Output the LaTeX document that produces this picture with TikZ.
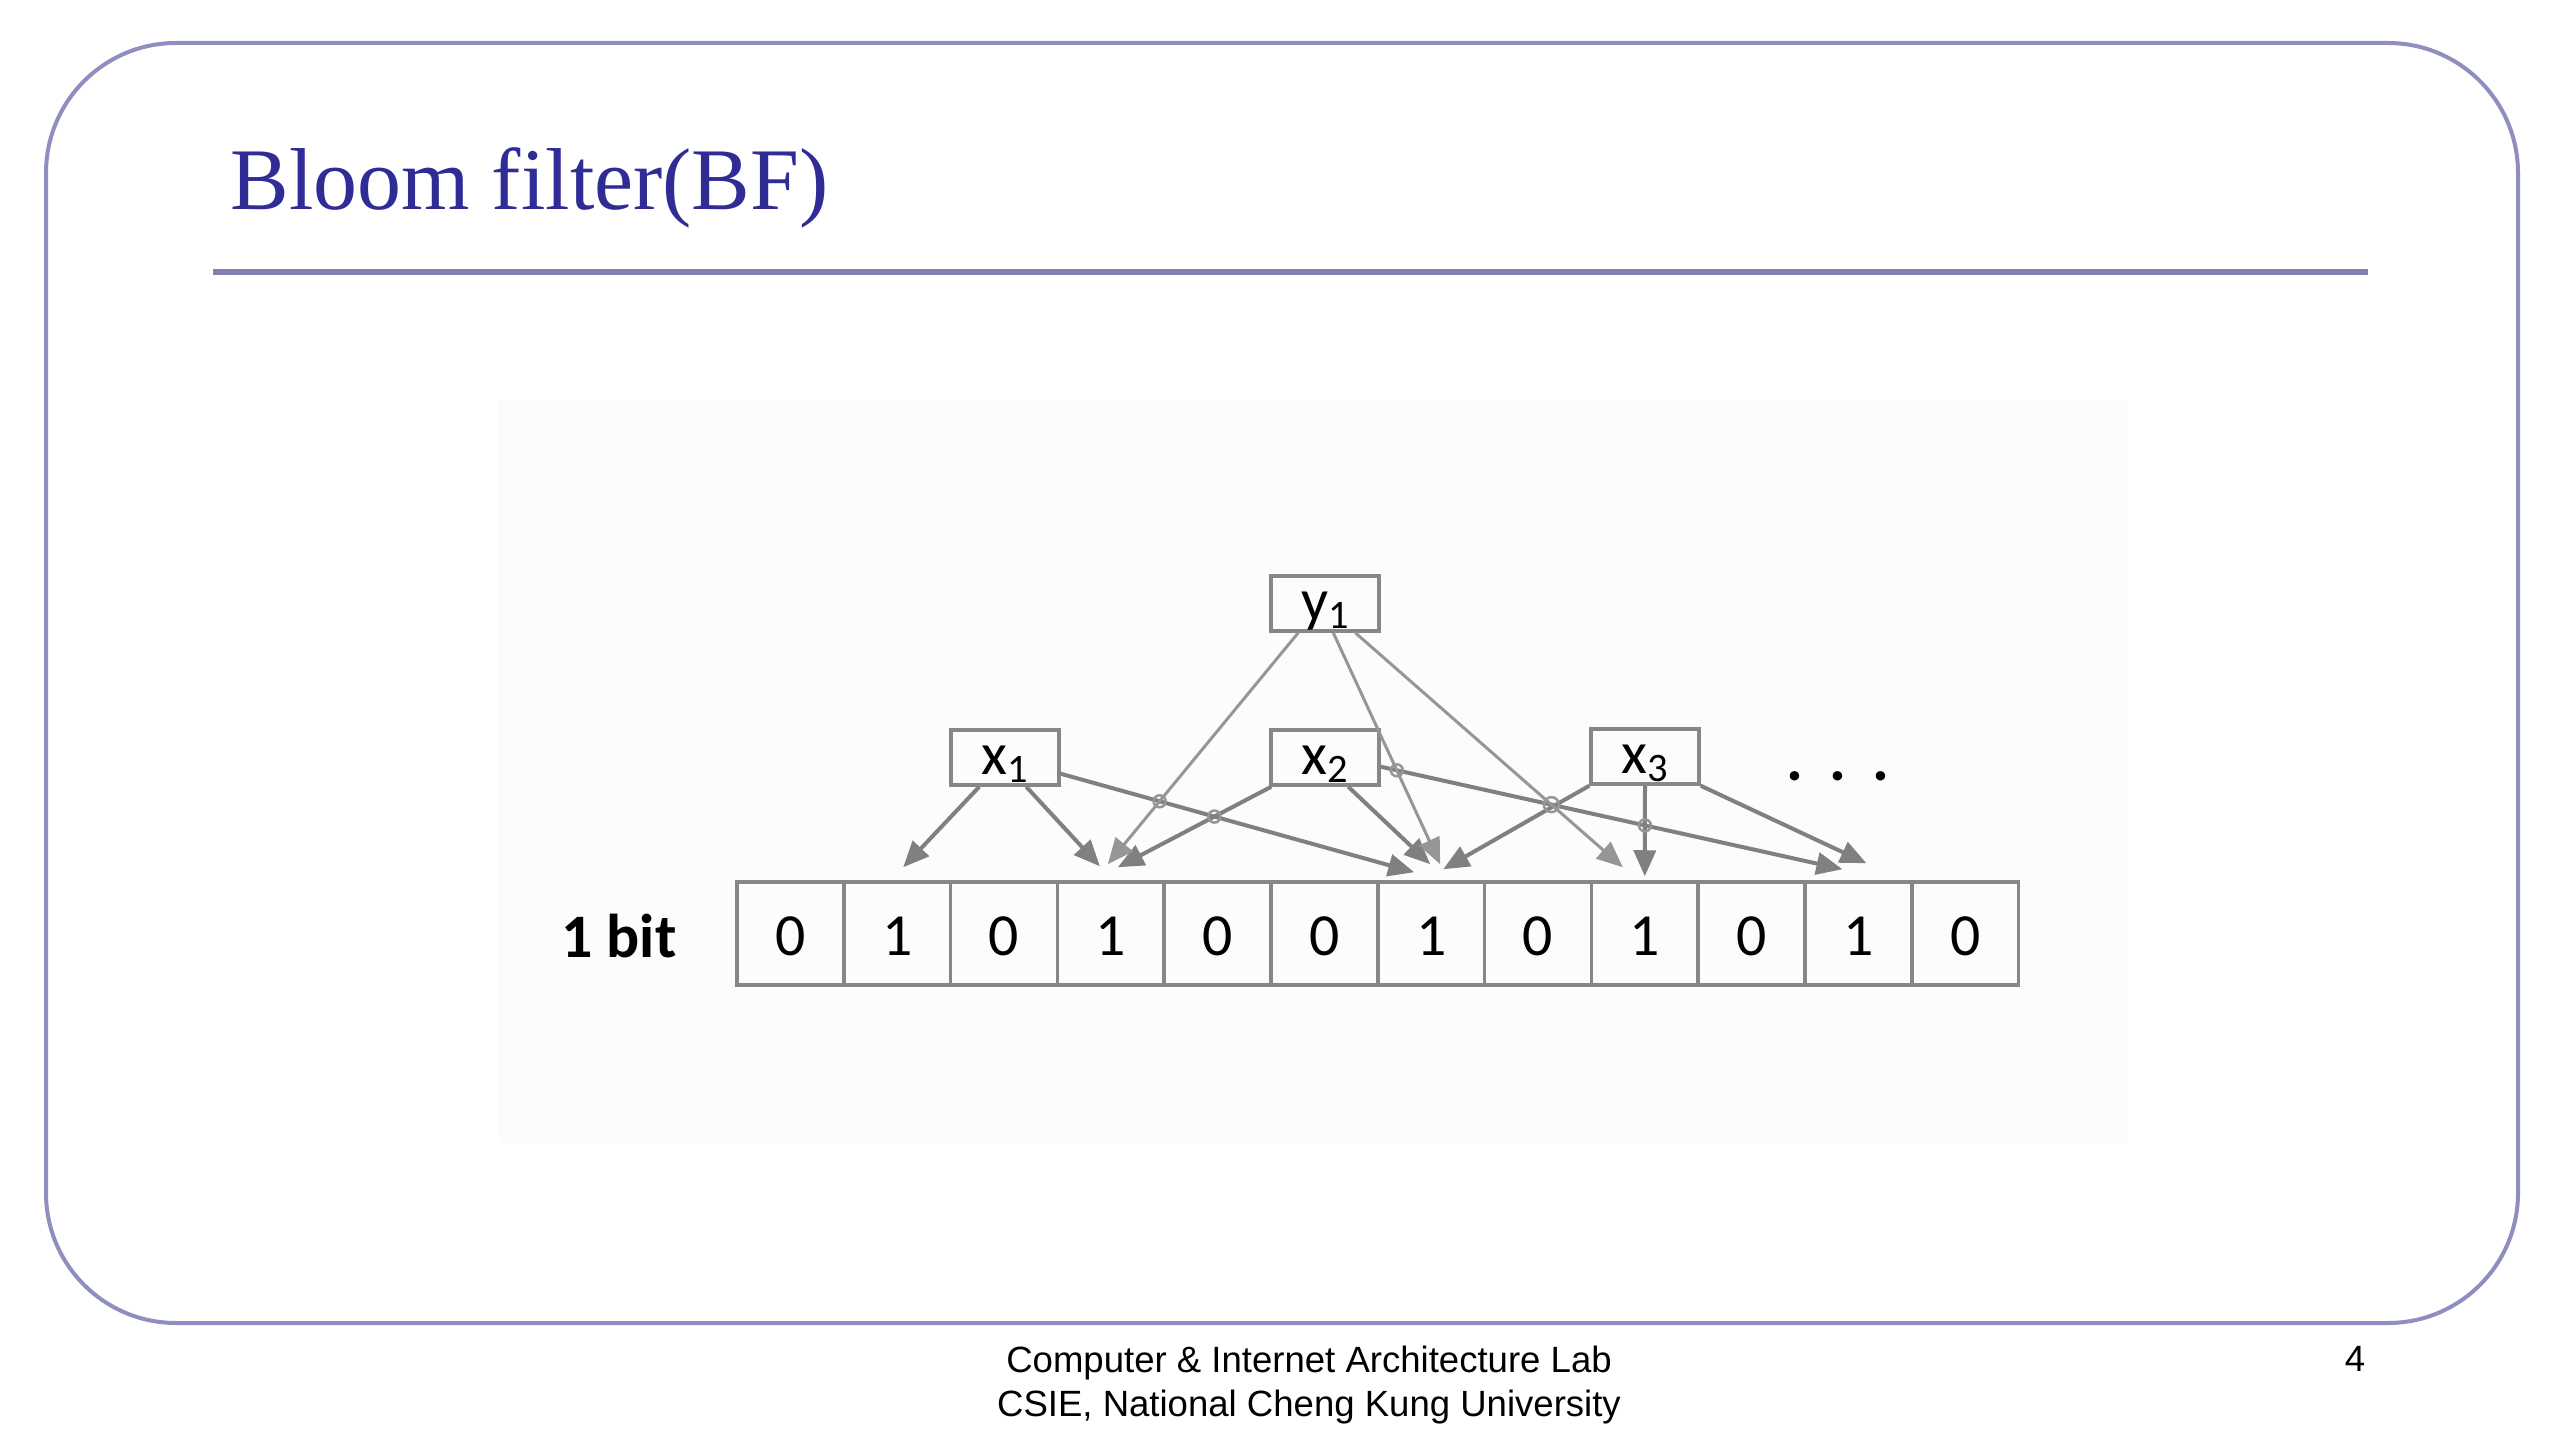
\documentclass[tikz,border=0pt]{standalone}
\usepackage{fontspec}
\setmainfont{Liberation Serif}
\newfontfamily\calibri{Carlito}
\newfontfamily\arialfont{Liberation Sans}
\usetikzlibrary{arrows.meta,calc,intersections}
\definecolor{framecol}{RGB}{142,142,192}
\definecolor{rulecol}{RGB}{128,128,178}
\definecolor{titlecol}{RGB}{48,44,150}
\definecolor{boxgray}{RGB}{135,135,135}
\definecolor{arrgray}{RGB}{128,128,128}
\definecolor{ygray}{RGB}{150,150,150}
\definecolor{imgbg}{RGB}{252,252,252}
\begin{document}
\begin{tikzpicture}[x=0.1mm,y=-0.1mm,
  bfbox/.style={draw=boxgray, line width=0.35mm, minimum width=10.8mm, minimum height=5.5mm,
    inner sep=0pt, text height=3.5mm, text depth=0pt, font=\calibri\fontsize{17}{18}\selectfont},
  bitcell/.style={draw=boxgray, line width=0.35mm, minimum width=10.68mm, minimum height=10.3mm,
    inner sep=0pt, text height=4.4mm, text depth=0pt, font=\calibri\fontsize{17}{18}\selectfont},
  xarrow/.style={draw=arrgray, line width=0.4mm, -{Triangle[length=2.6mm,width=2.2mm]}},
  yarrow/.style={draw=ygray, line width=0.3mm, -{Triangle[length=2.6mm,width=2.2mm]}},
  jumpmark/.style={draw=ygray, line width=0.25mm},
  footfont/.style={font=\arialfont\fontsize{10.4}{12.5}\selectfont, inner sep=0pt}
]
\useasboundingbox (0,0) rectangle (2560,1440);
\fill[white] (0,0) rectangle (2560,1440);
% slide frame
\draw[framecol, line width=0.4mm, rounded corners=13mm] (46,43) rectangle (2518,1323);
% title
\node[anchor=base west, inner sep=0pt, text=titlecol, font=\fontsize{25}{30}\selectfont] (title) at (230,210) {Bloom filter(BF)};
\draw[rulecol, line width=0.6mm] (213,272) -- (2368,272);
% image background
\fill[imgbg] (498,400) rectangle (2127,1143);
% bit cells
\foreach \v [count=\i from 0] in {0,1,0,1,0,0,1,0,1,0,1,0}
  \node[bitcell] (c\i) at ({737+106.8*(\i+0.5)},933.5) {\v};
\node[anchor=base, inner sep=0pt, font=\calibri\bfseries\fontsize{17.6}{20}\selectfont] (bitlabel) at (619,958) {1 bit};
% element boxes
\node[bfbox] (y1) at (1325,603.5) {y\raisebox{-0.13em}{\fontsize{11.5}{12}\selectfont 1}};
\node[bfbox] (x1) at (1005,757.5) {x\raisebox{-0.13em}{\fontsize{11.5}{12}\selectfont 1}};
\node[bfbox] (x2) at (1325,757.5) {x\raisebox{-0.13em}{\fontsize{11.5}{12}\selectfont 2}};
\node[bfbox] (x3) at (1645,756.5) {x\raisebox{-0.13em}{\fontsize{11.5}{12}\selectfont 3}};
\node[anchor=base, inner sep=0pt, font=\calibri\bfseries\fontsize{18}{20}\selectfont] (dots) at (1838,781) {.\hspace{2.6mm}.\hspace{2.6mm}.};
% x1 connectors
\draw[xarrow, name path=a1] ($(x1.south west)+(30,0)$) -- ($(c1.north)+(6,-13)$);
\draw[xarrow, name path=a2] ($(x1.south west)+(77,0)$) -- ($(c3.north)+(-11,-14)$);
\draw[xarrow, name path=a3] ($(x1.south east)+(0,-13)$) -- ($(c6.north)+(-17,-8)$);
% x2 connectors
\draw[xarrow, name path=b1] ($(x2.south west)+(2,0)$) -- ($(c3.north)+(7,-13)$);
\draw[xarrow, name path=b2] ($(x2.south west)+(79,0)$) -- ($(c6.north)+(-1,-16)$);
\draw[xarrow, name path=b3] ($(x2.south east)+(0,-20)$) -- ($(c10.north)+(-16,-11)$);
% x3 connectors
\draw[xarrow, name path=d1] ($(x3.south west)+(0,0)$) -- ($(c6.north)+(12,-11)$);
\draw[xarrow, name path=d2] (x3.south) -- ($(c8.north)+(0,-4)$);
\draw[xarrow, name path=d3] (x3.south east) -- ($(c10.north)+(8,-17)$);
% y1 connectors
\draw[yarrow, name path=e1] ($(y1.south west)+(29,0)$) -- ($(c3.north)+(-3,-16)$);
\draw[yarrow, name path=e2] ($(y1.south west)+(64,0)$) -- ($(c6.north)+(9,-16)$);
\draw[yarrow, name path=e3] ($(y1.south west)+(86,0)$) -- ($(c8.north)+(-22,-13)$);
% line jumps
\path[name intersections={of=a3 and e1, by=j1}];
\path[name intersections={of=a3 and b1, by=j2}];
\path[name intersections={of=b3 and e2, by=j3}];
\path[name intersections={of=b3 and e3, by=j4}];
\path[name intersections={of=b3 and d2, by=j5}];
\foreach \j in {j1,j2,j3,j5} \draw[jumpmark] (\j) circle[radius=0.6mm];
\draw[jumpmark] (j4) circle[radius=0.75mm];
% footer
\node[footfont, anchor=base] (foot1) at (1309,1372) {Computer \& Internet Architecture Lab};
\node[footfont, anchor=base] (foot2) at (1309,1416) {CSIE, National Cheng Kung University};
\node[footfont, anchor=base] (pagenum) at (2355,1371) {4};
\end{tikzpicture}
\end{document}
